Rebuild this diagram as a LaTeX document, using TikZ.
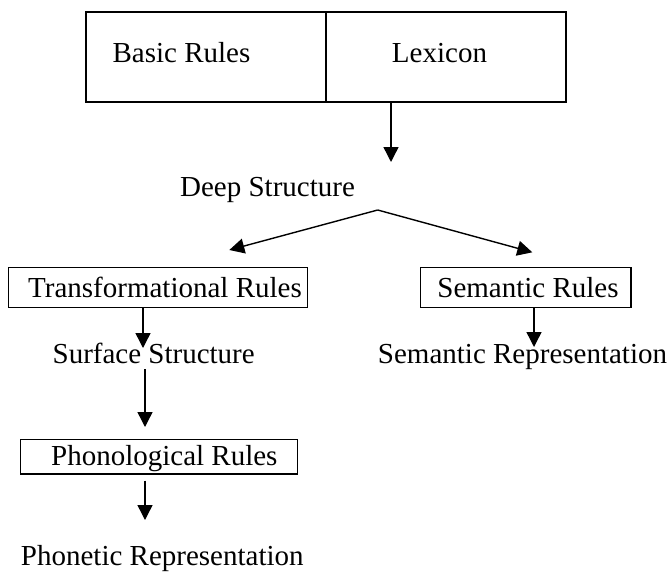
\documentclass[tikz,border=0pt]{standalone}
\usepackage{fontspec}
\setmainfont{Liberation Serif}
\usetikzlibrary{arrows.meta}
\begin{document}
\begin{tikzpicture}[x=1pt,y=-1pt,
  box/.style={draw,line width=1.4pt,inner sep=0pt},
  bigbox/.style={box,line width=1.8pt,minimum height=89.7pt},
  lbl/.style={anchor=base,inner sep=0pt,font=\fontsize{29}{30}\selectfont},
  arr/.style={line width=1.4pt,-{Triangle[length=15pt,width=15pt]}}]
\useasboundingbox (0,0) rectangle (671,571);

% boxes
\node[bigbox,minimum width=240pt] (basicbox) at (205.7,57.15) {};
\node[bigbox,minimum width=240.3pt] (lexbox) at (445.85,57.15) {};
\node[box,minimum width=299pt,minimum height=40.4pt] (transbox) at (157.8,287.5) {};
\node[box,minimum width=210.3pt,minimum height=40.4pt] (sembox) at (525.85,287.5) {};
\node[box,minimum width=277pt,minimum height=34.7pt] (phonbox) at (159.2,456.65) {};

% labels
\node[lbl] (basic) at (181.5,62) {Basic Rules};
\node[lbl] (lexicon) at (439.5,62) {Lexicon};
\node[lbl] (deep) at (267.5,196) {Deep Structure};
\node[lbl] (trans) at (165,297) {Transformational Rules};
\node[lbl] (semrules) at (528,297) {Semantic Rules};
\node[lbl] (surface) at (153.7,363) {Surface Structure};
\node[lbl] (semrep) at (522.5,363) {Semantic Representation};
\node[lbl] (phonrules) at (164.3,465) {Phonological Rules};
\node[lbl] (phonetic) at (162.3,565) {Phonetic Representation};

% connectors
\coordinate (lexfoot) at (391,162);
\draw[arr] (lexfoot |- lexbox.south) -- (lexfoot);

\coordinate (apex) at (377.7,210);
\coordinate (ltip) at (229.3,250);
\coordinate (rtip) at (532.3,252.3);
\draw[arr] (apex) -- (ltip);
\draw[arr] (apex) -- (rtip);

\coordinate (tfoot) at (143,348);
\draw[arr] (tfoot |- transbox.south) -- (tfoot);

\coordinate (sfoot) at (534,347);
\draw[arr] (sfoot |- sembox.south) -- (sfoot);

\coordinate (shead) at (145,369);
\coordinate (pfoot) at (145,427);
\draw[arr] (shead) -- (pfoot);

\coordinate (phfoot) at (145,520);
\draw[arr,shorten <=6pt] (phfoot |- phonbox.south) -- (phfoot);
\end{tikzpicture}
\end{document}
